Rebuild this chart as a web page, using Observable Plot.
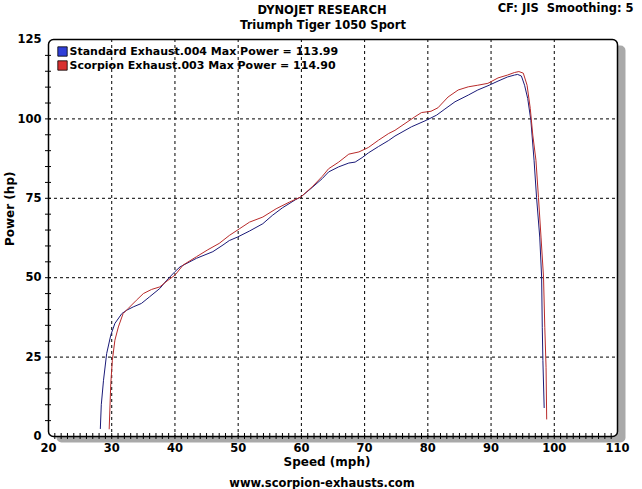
<!DOCTYPE html>
<html><head><meta charset="utf-8">
<script src="https://cdn.jsdelivr.net/npm/d3@7"></script>
<script src="https://cdn.jsdelivr.net/npm/@observablehq/plot@0.6"></script>
<style>body{margin:0;background:#fff} svg{display:block}</style>
</head><body><div id="chart"></div>
<script>
const stdSpeed = [28.2, 28.35, 28.7, 29.2, 29.85, 30.5, 31.6, 32.4, 33.4, 34.7, 36.0, 37.6, 38.7, 40.0, 40.8, 43.4, 46.0, 47.6, 48.6, 49.9, 51.8, 53.9, 55.4, 57.0, 59.1, 59.9, 61.7, 63.3, 64.3, 65.9, 67.5, 68.5, 69.6, 70.6, 72.2, 73.8, 74.8, 77.4, 79.8, 81.4, 82.7, 84.3, 86.4, 87.9, 89.7, 91.1, 92.6, 93.7, 94.2, 94.8, 95.3, 95.8, 96.3, 96.8, 97.2, 97.7, 98.0, 98.1, 98.2, 98.4];
const stdPower = [2.5, 10, 17.7, 26.1, 31.9, 35.6, 38.7, 39.8, 40.8, 41.9, 44.0, 46.6, 49.2, 51.9, 53.4, 56.1, 58.2, 60.3, 61.7, 62.8, 64.7, 67.0, 69.6, 72.0, 74.6, 75.4, 78.4, 81.2, 83.3, 84.9, 86.1, 86.4, 87.8, 89.3, 91.3, 93.2, 94.6, 97.5, 99.6, 101.2, 103.1, 105.4, 107.5, 109.1, 110.6, 111.9, 113.2, 113.8, 114.0, 113.5, 110.6, 106.4, 99.5, 87.0, 75.2, 62.8, 50.2, 34.4, 23.9, 9.1];
const scoSpeed = [29.6, 29.85, 30.1, 30.5, 31.05, 31.8, 32.6, 33.9, 35.0, 36.3, 37.6, 38.9, 40.0, 41.3, 43.4, 45.2, 47.0, 48.6, 50.2, 51.8, 53.9, 56.0, 58.1, 59.9, 61.7, 63.3, 64.3, 65.9, 67.5, 69.1, 70.6, 72.2, 73.8, 74.8, 77.9, 79.0, 80.5, 81.6, 83.2, 84.8, 86.4, 87.9, 89.5, 91.1, 92.6, 93.7, 94.4, 95.1, 95.7, 96.2, 96.6, 97.1, 97.5, 97.9, 98.3, 98.5, 98.7, 98.8];
const scoPower = [2.4, 16.6, 24.0, 30.3, 34.5, 38.7, 40.3, 42.9, 45.0, 46.3, 47.1, 49.2, 50.8, 54.0, 56.6, 58.8, 60.8, 63.3, 65.4, 67.5, 69.1, 71.7, 73.8, 75.4, 78.6, 81.9, 84.3, 86.4, 88.9, 89.6, 91.0, 93.3, 95.4, 96.4, 100.6, 102.0, 102.4, 103.5, 106.9, 109.1, 110.1, 110.6, 111.2, 112.9, 113.8, 114.6, 114.9, 114.4, 110.6, 103.3, 94.9, 87.0, 75.2, 62.8, 50.2, 34.4, 21.8, 5.5];

const runNames = ["Standard Exhaust.004", "Scorpion Exhaust.003"];
const maxPower = ["113.99", "114.90"];
const runColors = ["#1a1a78", "#b82a2a"];
const swatchColors = ["#2f3fd8", "#d83030"];

const xTicks = [20, 30, 40, 50, 60, 70, 80, 90, 100, 110];
const yTicks = [0, 25, 50, 75, 100, 125];
const xGrid = [30, 40, 50, 60, 70, 80, 90, 100];
const yGrid = [25, 50, 75, 100];
const xMinor = d3.range(21, 110);
const yMinor = d3.range(5, 125, 5);

const titleText = "DYNOJET RESEARCH";
const subtitleText = "Triumph Tiger 1050 Sport";
const infoText = "CF: JIS\u00a0 Smoothing: 5";
const xLabel = "Speed (mph)";
const yLabel = "Power (hp)";
const footerText = "www.scorpion-exhausts.com";

const rows = [
  ...stdSpeed.map((s, i) => ({speed: s, power: stdPower[i], run: runNames[0]})),
  ...scoSpeed.map((s, i) => ({speed: s, power: scoPower[i], run: runNames[1]}))
];
const legend = runNames.map((n, i) => ({label: `${n} Max Power = ${maxPower[i]}`, i}));

const font = "'DejaVu Sans', Verdana, sans-serif";
const chart = Plot.plot({
  width: 642, height: 489,
  marginLeft: 48, marginRight: 25, marginTop: 39, marginBottom: 53,
  style: {fontFamily: font, fontSize: "11px", fontWeight: "bold", background: "white", color: "black", overflow: "visible"},
  x: {domain: [20, 110], axis: null},
  y: {domain: [0, 125], axis: null},
  color: {domain: runNames, range: runColors},
  marks: [
    Plot.frame({fill: "#a9a9a9", dx: 8, dy: 6, rx: 5}),
    Plot.frame({fill: "white", rx: 5}),
    Plot.ruleX(xGrid, {x: d => d, stroke: "black", strokeWidth: 1, strokeDasharray: "3,3"}),
    Plot.ruleY(yGrid, {y: d => d, stroke: "black", strokeWidth: 1, strokeDasharray: "3,3"}),
    Plot.line(rows, {x: "speed", y: "power", z: "run", stroke: "run", strokeWidth: 1}),
    Plot.frame({stroke: "black", strokeWidth: 1.5, rx: 5}),
    Plot.axisX({ticks: xMinor, tickSize: 6, dy: -3, tickFormat: () => "", label: null, stroke: "black"}),
    Plot.axisY({ticks: yMinor, tickSize: 6, dx: 3, tickFormat: () => "", label: null, stroke: "black"}),
    Plot.axisX({ticks: xTicks, tickSize: 0, tickPadding: 7, fontSize: 11.5, label: null}),
    Plot.axisY({ticks: yTicks, tickSize: 0, tickPadding: 7, fontSize: 11.5, label: null}),
    Plot.dot(legend, {frameAnchor: "top-left", symbol: "square", r: 5.3,
      fill: d => swatchColors[d.i], stroke: "black", strokeWidth: 0.8,
      render: (index, scales, values, dims, ctx, next) => {
        const g = next(index, scales, values, dims, ctx);
        d3.select(g).selectAll("path").attr("transform", (d, j) => `translate(${dims.marginLeft + 14},${dims.marginTop + 12 + 14 * j})`);
        return g;
      }}),
    Plot.text(legend, {frameAnchor: "top-left", text: "label", textAnchor: "start", lineAnchor: "middle", fontSize: 11,
      render: (index, scales, values, dims, ctx, next) => {
        const g = next(index, scales, values, dims, ctx);
        d3.select(g).selectAll("text").attr("transform", (d, j) => `translate(${dims.marginLeft + 21},${dims.marginTop + 12 + 14 * j})`);
        return g;
      }}),
    Plot.text([titleText], {frameAnchor: "top", dx: -11, dy: -29, lineAnchor: "middle", fontSize: 11.5}),
    Plot.text([subtitleText], {frameAnchor: "top", dx: -10, dy: -14, lineAnchor: "middle", fontSize: 11.5}),
    Plot.text([infoText], {frameAnchor: "top-right", textAnchor: "end", dx: 16, dy: -31, lineAnchor: "middle", fontSize: 11.5}),
    Plot.text([xLabel], {frameAnchor: "bottom", dx: -6, dy: 26, lineAnchor: "middle", fontSize: 12}),
    Plot.text([yLabel], {frameAnchor: "left", dx: -38, dy: 8, rotate: -90, lineAnchor: "middle", fontSize: 12}),
    Plot.text([footerText], {frameAnchor: "bottom", dx: -11, dy: 47, lineAnchor: "middle", fontSize: 11.5})
  ]
});
document.getElementById("chart").append(chart);
</script>
</body></html>
